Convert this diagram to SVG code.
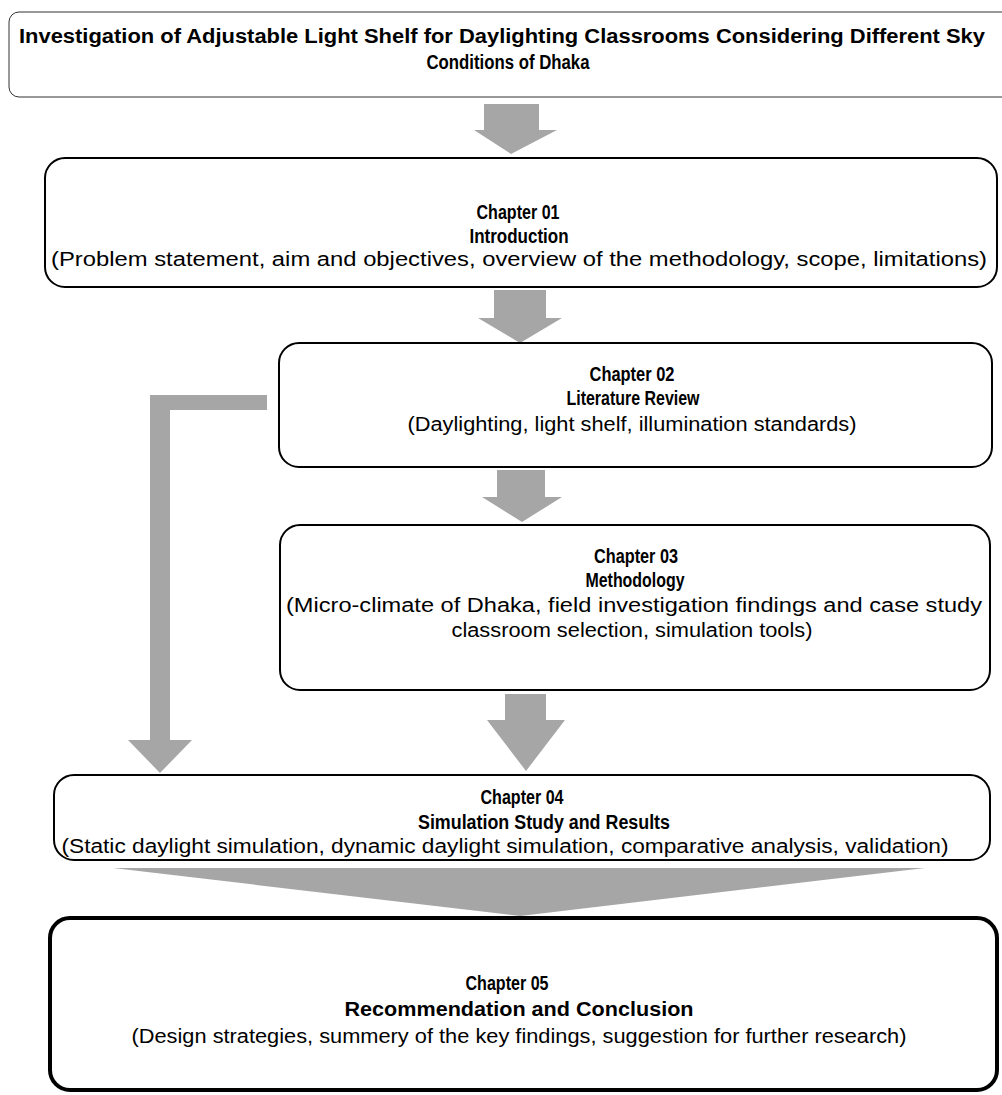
<svg xmlns="http://www.w3.org/2000/svg" width="1002" height="1095" viewBox="0 0 1002 1095">
<style>
.box{fill:#fff;stroke:#000;stroke-width:2}
.t{font-family:"Liberation Sans",Arial,sans-serif;font-size:20px;fill:#000;text-anchor:middle}
.b{font-weight:bold}
.arr{fill:#a6a6a6}
</style>
<rect width="1002" height="1095" fill="#fff"/>
<g id="connectors">
<polygon class="arr" points="484,104 539,104 539,130 557,130 511,154 474,130 484,130"/>
<polygon class="arr" points="494,290 546,290 546,318 562,318 520,343 478,318 494,318"/>
<path class="arr" d="M267,395 L150,395 L150,740 L128,740 L160,773 L192,740 L170,740 L170,410 L267,410 Z"/>
<polygon class="arr" points="497,470 545,470 545,497 562,497 522,522 482,497 497,497"/>
<polygon class="arr" points="505,694 546,694 546,720 565,720 526,771 487,720 505,720"/>
<polygon class="arr" points="113,868 925,868 520,916"/>
</g>
<g id="title">
<rect x="9" y="12" width="1005" height="85" rx="10" fill="#fff" stroke="#333" stroke-width="1"/>
<text class="t b" x="502" y="43" textLength="966" lengthAdjust="spacingAndGlyphs">Investigation of Adjustable Light Shelf for Daylighting Classrooms Considering Different Sky</text>
<text class="t b" x="508" y="69" textLength="163" lengthAdjust="spacingAndGlyphs">Conditions of Dhaka</text>
</g>
<g id="ch01">
<rect class="box" x="45" y="158" width="952" height="129" rx="20"/>
<text class="t b" x="518" y="219" textLength="83" lengthAdjust="spacingAndGlyphs">Chapter 01</text>
<text class="t b" x="519" y="243" textLength="99" lengthAdjust="spacingAndGlyphs">Introduction</text>
<text class="t" x="519" y="266" textLength="936" lengthAdjust="spacingAndGlyphs">(Problem statement, aim and objectives, overview of the methodology, scope, limitations)</text>
</g>
<g id="ch02">
<rect class="box" x="279" y="343" width="713" height="124" rx="20"/>
<text class="t b" x="632" y="381" textLength="85" lengthAdjust="spacingAndGlyphs">Chapter 02</text>
<text class="t b" x="633" y="405" textLength="133" lengthAdjust="spacingAndGlyphs">Literature Review</text>
<text class="t" x="632" y="431" textLength="449" lengthAdjust="spacingAndGlyphs">(Daylighting, light shelf, illumination standards)</text>
</g>
<g id="ch03">
<rect class="box" x="280" y="525" width="710" height="165" rx="20"/>
<text class="t b" x="636" y="563" textLength="84" lengthAdjust="spacingAndGlyphs">Chapter 03</text>
<text class="t b" x="635" y="587" textLength="99" lengthAdjust="spacingAndGlyphs">Methodology</text>
<text class="t" x="634" y="612" textLength="696" lengthAdjust="spacingAndGlyphs">(Micro-climate of Dhaka, field investigation findings and case study</text>
<text class="t" x="632" y="637" textLength="361" lengthAdjust="spacingAndGlyphs">classroom selection, simulation tools)</text>
</g>
<g id="ch04">
<rect class="box" x="54" y="775" width="936" height="85" rx="20"/>
<text class="t b" x="522" y="804" textLength="83" lengthAdjust="spacingAndGlyphs">Chapter 04</text>
<text class="t b" x="544" y="829" textLength="252" lengthAdjust="spacingAndGlyphs">Simulation Study and Results</text>
<text class="t" x="505" y="853" textLength="887" lengthAdjust="spacingAndGlyphs">(Static daylight simulation, dynamic daylight simulation, comparative analysis, validation)</text>
</g>
<g id="ch05">
<rect x="50" y="918" width="947" height="172" rx="20" fill="#fff" stroke="#000" stroke-width="4"/>
<text class="t b" x="507" y="990" textLength="83" lengthAdjust="spacingAndGlyphs">Chapter 05</text>
<text class="t b" x="519" y="1016" textLength="349" lengthAdjust="spacingAndGlyphs">Recommendation and Conclusion</text>
<text class="t" x="519" y="1043" textLength="775" lengthAdjust="spacingAndGlyphs">(Design strategies, summery of the key findings, suggestion for further research)</text>
</g>
</svg>
